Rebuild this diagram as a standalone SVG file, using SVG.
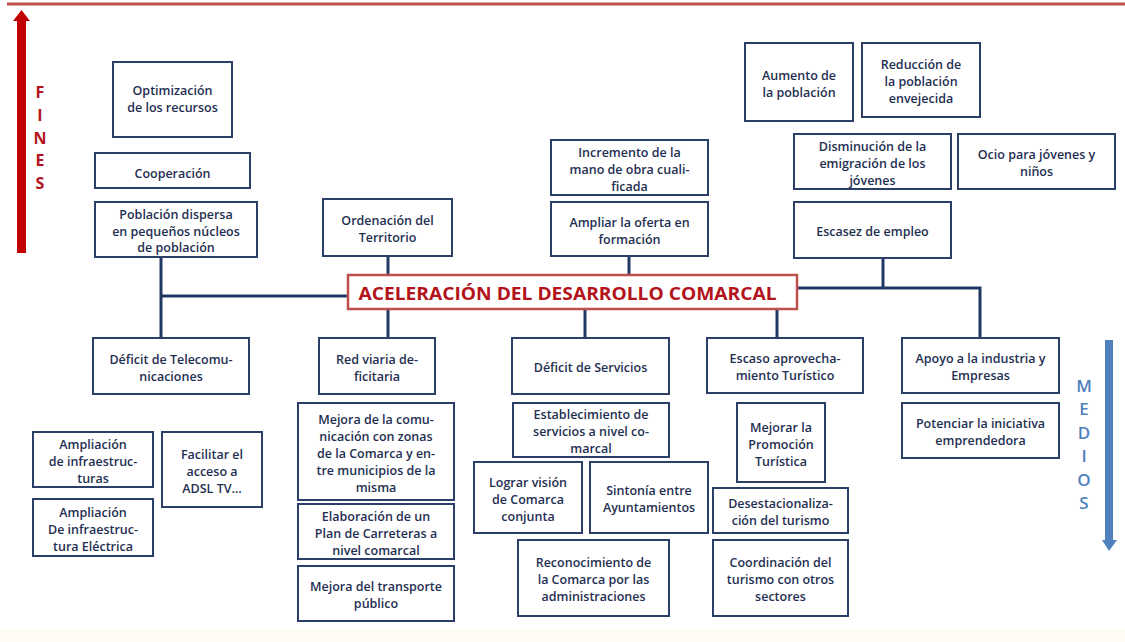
<svg xmlns="http://www.w3.org/2000/svg" width="1125" height="642" viewBox="0 0 1125 642">
<style>
.b{fill:#fff;stroke:#2a4068;stroke-width:2}
.t{font-family:"Open Sans","Liberation Sans",sans-serif;font-size:12.5px;font-weight:600;fill:#1f2f52;text-anchor:middle}
.c{fill:none;stroke:#1f3864;stroke-width:3}
.fin{font-family:"Open Sans","Liberation Sans",sans-serif;font-size:16px;font-weight:700;fill:#b3141c;text-anchor:middle}
.med{font-family:"Open Sans","Liberation Sans",sans-serif;font-size:17px;font-weight:600;fill:#4f81bd;text-anchor:middle}
</style>
<rect x="0" y="0" width="1125" height="642" fill="#fff"/>
<rect x="0" y="630" width="1125" height="12" fill="#fffbf3"/>
<line x1="7" y1="4" x2="1125" y2="4" stroke="#c0504d" stroke-width="3"/>

<g id="fines-arrow">
<rect x="17" y="19" width="9" height="234" fill="#c00000"/>
<polygon points="13,21 21.5,10 30,21" fill="#c00000"/>
<text class="fin" x="40" y="98">F</text>
<text class="fin" x="40" y="121">I</text>
<text class="fin" x="40" y="144">N</text>
<text class="fin" x="40" y="166">E</text>
<text class="fin" x="40" y="189">S</text>
</g>

<g id="medios-arrow">
<rect x="1105" y="340" width="8" height="202" fill="#4f81bd"/>
<polygon points="1102,540 1117,540 1109,551" fill="#4f81bd"/>
<text class="med" x="1084" y="392">M</text>
<text class="med" x="1084" y="415">E</text>
<text class="med" x="1084" y="439">D</text>
<text class="med" x="1084" y="462">I</text>
<text class="med" x="1084" y="486">O</text>
<text class="med" x="1084" y="509">S</text>
</g>

<g id="connectors">
<polyline class="c" points="161,257 161,338"/>
<polyline class="c" points="161,296 348,296"/>
<polyline class="c" points="388,256 388,275"/>
<polyline class="c" points="629,256 629,275"/>
<polyline class="c" points="883,258 883,288"/>
<polyline class="c" points="798,288 980,288 980,338"/>
<polyline class="c" points="388,309 388,338"/>
<polyline class="c" points="585,309 585,338"/>
<polyline class="c" points="777,309 777,338"/>
</g>

<g id="title">
<rect x="348" y="275" width="449" height="34" fill="#fff" stroke="#c0504d" stroke-width="2.5"/>
<text x="567.5" y="300" font-family="Open Sans, Liberation Sans, sans-serif" font-size="18.5" font-weight="700" fill="#b3141c" text-anchor="middle" textLength="418" lengthAdjust="spacingAndGlyphs">ACELERACIÓN DEL DESARROLLO COMARCAL</text>
</g>

<g id="n-optimizacion"><rect class="b" x="113" y="62" width="119" height="75"/><text class="t" x="172.5" y="95">Optimización</text><text class="t" x="172.5" y="112">de los recursos</text></g>
<g id="n-cooperacion"><rect class="b" x="95" y="153" width="155" height="35"/><text class="t" x="172.5" y="178">Cooperación</text></g>
<g id="n-poblacion"><rect class="b" x="95" y="202" width="162" height="55"/><text class="t" x="176" y="219">Población dispersa</text><text class="t" x="176" y="236">en pequeños núcleos</text><text class="t" x="176" y="252">de población</text></g>
<g id="n-ordenacion"><rect class="b" x="323" y="199" width="129" height="57"/><text class="t" x="387.5" y="225">Ordenación del</text><text class="t" x="387.5" y="242">Territorio</text></g>
<g id="n-incremento"><rect class="b" x="551" y="140" width="157" height="55"/><text class="t" x="629.5" y="157">Incremento de la</text><text class="t" x="629.5" y="174">mano de obra cuali-</text><text class="t" x="629.5" y="191">ficada</text></g>
<g id="n-ampliar"><rect class="b" x="551" y="202" width="157" height="54"/><text class="t" x="629.5" y="226.5">Ampliar la oferta en</text><text class="t" x="629.5" y="243.5">formación</text></g>
<g id="n-aumento"><rect class="b" x="745" y="43" width="108" height="78"/><text class="t" x="799" y="79.5">Aumento de</text><text class="t" x="799" y="96.5">la población</text></g>
<g id="n-reduccion"><rect class="b" x="862" y="43" width="118" height="74"/><text class="t" x="921" y="69">Reducción de</text><text class="t" x="921" y="86">la población</text><text class="t" x="921" y="103">envejecida</text></g>
<g id="n-disminucion"><rect class="b" x="794" y="134" width="157" height="55"/><text class="t" x="872.5" y="150.5">Disminución de la</text><text class="t" x="872.5" y="167.5">emigración de los</text><text class="t" x="872.5" y="184.5">jóvenes</text></g>
<g id="n-ocio"><rect class="b" x="958" y="134" width="157" height="55"/><text class="t" x="1036.5" y="159">Ocio para jóvenes y</text><text class="t" x="1036.5" y="176">niños</text></g>
<g id="n-escasez"><rect class="b" x="794" y="202" width="157" height="56"/><text class="t" x="872.5" y="236">Escasez de empleo</text></g>

<g id="n-telecom"><rect class="b" x="93" y="338" width="156" height="56"/><text class="t" x="171" y="363.5">Déficit de Telecomu-</text><text class="t" x="171" y="380.5">nicaciones</text></g>
<g id="n-ampl-infra"><rect class="b" x="33" y="432" width="120" height="55"/><text class="t" x="93" y="448.5">Ampliación</text><text class="t" x="93" y="465.5">de infraestruc-</text><text class="t" x="93" y="482.5">turas</text></g>
<g id="n-ampl-elec"><rect class="b" x="33" y="499" width="120" height="57"/><text class="t" x="93" y="516.5">Ampliación</text><text class="t" x="93" y="533.5">De infraestruc-</text><text class="t" x="93" y="550.5">tura Eléctrica</text></g>
<g id="n-facilitar"><rect class="b" x="162" y="432" width="100" height="75"/><text class="t" x="212" y="458.5">Facilitar el</text><text class="t" x="212" y="475.5">acceso a</text><text class="t" x="212" y="492.5">ADSL TV…</text></g>
<g id="n-red"><rect class="b" x="319" y="338" width="116" height="56"/><text class="t" x="377" y="363.5">Red viaria de-</text><text class="t" x="377" y="380.5">ficitaria</text></g>
<g id="n-mejora-com"><rect class="b" x="298" y="403" width="156" height="97"/><text class="t" x="376" y="423.5">Mejora de la comu-</text><text class="t" x="376" y="440.5">nicación con zonas</text><text class="t" x="376" y="457.5">de la Comarca y en-</text><text class="t" x="376" y="474.5">tre municipios de la</text><text class="t" x="376" y="491.5">misma</text></g>
<g id="n-elaboracion"><rect class="b" x="298" y="504" width="156" height="55"/><text class="t" x="376" y="520.5">Elaboración de un</text><text class="t" x="376" y="537.5">Plan de Carreteras a</text><text class="t" x="376" y="554.5">nivel comarcal</text></g>
<g id="n-transporte"><rect class="b" x="298" y="566" width="156" height="55"/><text class="t" x="376" y="591">Mejora del transporte</text><text class="t" x="376" y="608">público</text></g>
<g id="n-servicios"><rect class="b" x="512" y="338" width="157" height="56"/><text class="t" x="590.5" y="372">Déficit de Servicios</text></g>
<g id="n-establecimiento"><rect class="b" x="513" y="403" width="156" height="54"/><text class="t" x="591" y="419">Establecimiento de</text><text class="t" x="591" y="436">servicios a nivel co-</text><text class="t" x="591" y="453">marcal</text></g>
<g id="n-lograr"><rect class="b" x="474" y="462" width="108" height="71"/><text class="t" x="528" y="486.5">Lograr visión</text><text class="t" x="528" y="503.5">de Comarca</text><text class="t" x="528" y="520.5">conjunta</text></g>
<g id="n-sintonia"><rect class="b" x="590" y="462" width="118" height="71"/><text class="t" x="649" y="495">Sintonía entre</text><text class="t" x="649" y="512">Ayuntamientos</text></g>
<g id="n-reconocimiento"><rect class="b" x="518" y="540" width="151" height="76"/><text class="t" x="593.5" y="567">Reconocimiento de</text><text class="t" x="593.5" y="584">la Comarca por las</text><text class="t" x="593.5" y="601">administraciones</text></g>
<g id="n-escaso"><rect class="b" x="707" y="338" width="156" height="55"/><text class="t" x="785" y="363">Escaso aprovecha-</text><text class="t" x="785" y="380">miento Turístico</text></g>
<g id="n-promocion"><rect class="b" x="737" y="403" width="88" height="79"/><text class="t" x="781" y="431.5">Mejorar la</text><text class="t" x="781" y="448.5">Promoción</text><text class="t" x="781" y="465.5">Turística</text></g>
<g id="n-desestac"><rect class="b" x="713" y="488" width="135" height="45"/><text class="t" x="780.5" y="508">Desestacionaliza-</text><text class="t" x="780.5" y="525">ción del turismo</text></g>
<g id="n-coordinacion"><rect class="b" x="713" y="540" width="135" height="76"/><text class="t" x="780.5" y="567">Coordinación del</text><text class="t" x="780.5" y="584">turismo con otros</text><text class="t" x="780.5" y="601">sectores</text></g>
<g id="n-apoyo"><rect class="b" x="902" y="338" width="157" height="55"/><text class="t" x="980.5" y="363">Apoyo a la industria y</text><text class="t" x="980.5" y="380">Empresas</text></g>
<g id="n-potenciar"><rect class="b" x="902" y="403" width="157" height="55"/><text class="t" x="980.5" y="428">Potenciar la iniciativa</text><text class="t" x="980.5" y="445">emprendedora</text></g>
</svg>
